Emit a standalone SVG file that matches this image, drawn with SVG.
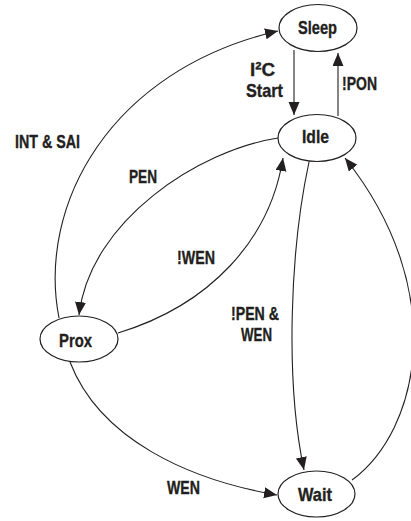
<svg xmlns="http://www.w3.org/2000/svg" width="411" height="521" viewBox="0 0 411 521">
<style>
.node ellipse{fill:#fff;stroke:#231f20;stroke-width:1.2}
text{font-family:"Liberation Sans",Arial,sans-serif;font-weight:bold;font-size:18.5px;fill:#231f20;stroke:#231f20;stroke-width:0.35}
.edges path{fill:none;stroke:#231f20;stroke-width:1.1;marker-end:url(#arr)}
</style>
<defs>
<marker id="arr" markerUnits="userSpaceOnUse" markerWidth="14" markerHeight="12" refX="13" refY="5.5" orient="auto">
<path d="M0,0 L13,5.5 L0,11 z" fill="#231f20"/>
</marker>
</defs>
<rect width="411" height="521" fill="#fff"/>
<g class="edges">
<path d="M294,50 L294,115"/>
<path d="M338,116 L338,53"/>
<path d="M59,318 C37,205 110,70 278,31"/>
<path d="M278,138 C200,150 90,220 79,315"/>
<path d="M118,333 C210,305 270,240 283,158"/>
<path d="M309,162 C290,250 285,380 304,470"/>
<path d="M352,480 C420,430 450,290 345,158"/>
<path d="M70,362 C100,440 190,480 277,495"/>
</g>
<g id="sleep" class="node"><ellipse cx="318" cy="28" rx="39" ry="23.5"/><text x="298" y="34" textLength="39" lengthAdjust="spacingAndGlyphs">Sleep</text></g>
<g id="idle" class="node"><ellipse cx="317" cy="138" rx="39" ry="23.5"/><text x="302" y="143" textLength="27" lengthAdjust="spacingAndGlyphs">Idle</text></g>
<g id="prox" class="node"><ellipse cx="79" cy="339" rx="39" ry="23"/><text x="59" y="347" textLength="33" lengthAdjust="spacingAndGlyphs">Prox</text></g>
<g id="wait" class="node"><ellipse cx="316.5" cy="494" rx="38.5" ry="23"/><text x="298" y="501" textLength="34" lengthAdjust="spacingAndGlyphs">Wait</text></g>
<g id="labels">
<text x="250" y="76" textLength="25" lengthAdjust="spacingAndGlyphs">I²C</text>
<text x="246" y="97" textLength="37" lengthAdjust="spacingAndGlyphs">Start</text>
<text x="342" y="90" textLength="35" lengthAdjust="spacingAndGlyphs">!PON</text>
<text x="15" y="148" textLength="65" lengthAdjust="spacingAndGlyphs">INT &amp; SAI</text>
<text x="129" y="183" textLength="28" lengthAdjust="spacingAndGlyphs">PEN</text>
<text x="177" y="264" textLength="38" lengthAdjust="spacingAndGlyphs">!WEN</text>
<text x="231" y="320" textLength="48" lengthAdjust="spacingAndGlyphs">!PEN &amp;</text>
<text x="241" y="341" textLength="31" lengthAdjust="spacingAndGlyphs">WEN</text>
<text x="167" y="494" textLength="33" lengthAdjust="spacingAndGlyphs">WEN</text>
</g>
</svg>
